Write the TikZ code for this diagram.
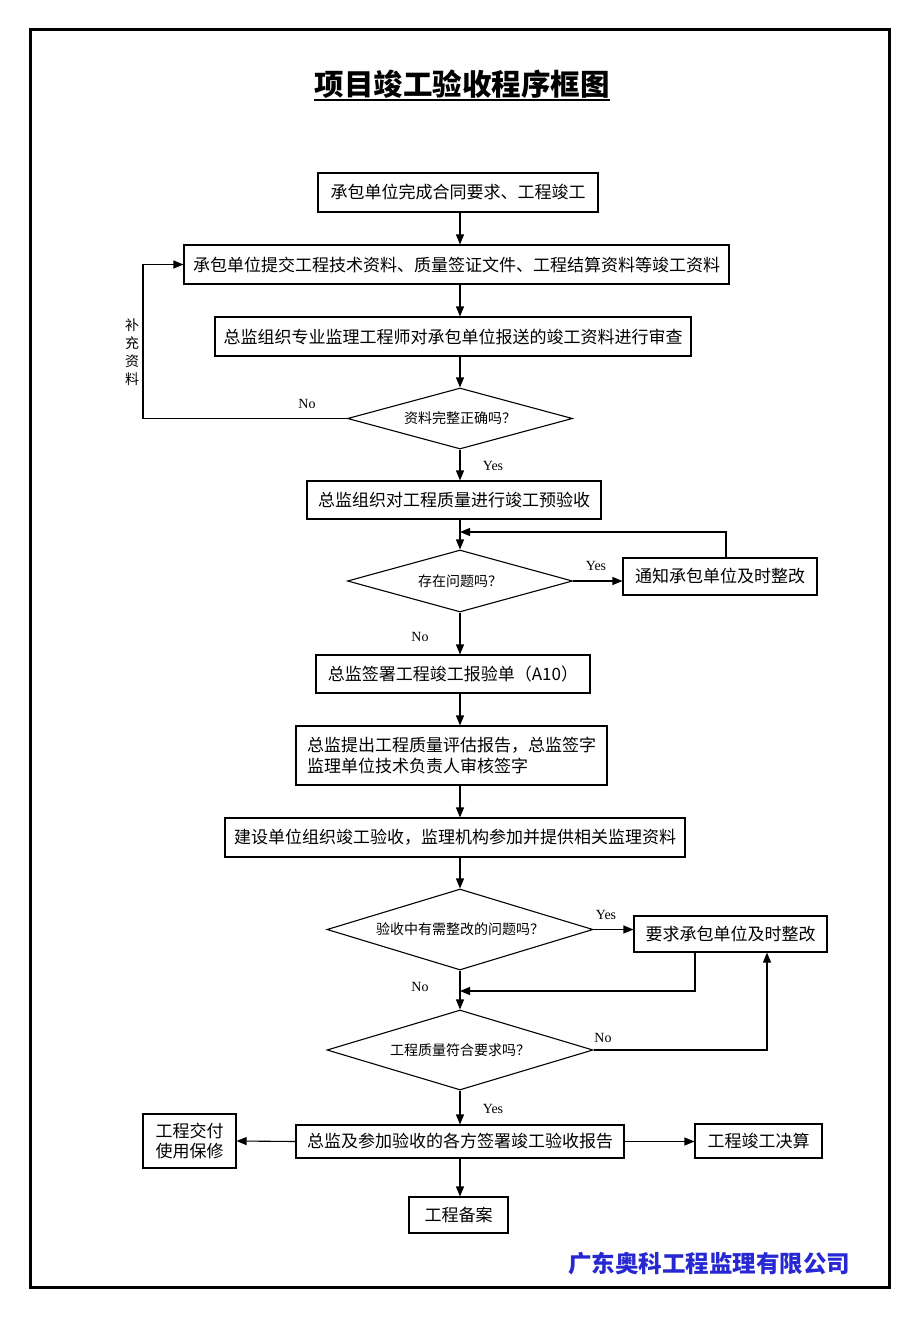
\documentclass[tikz,border=0pt]{standalone}
\usepackage{fontspec}
\setmainfont{Liberation Serif}
\newfontfamily\cjk{Noto Sans CJK SC}
\usetikzlibrary{arrows.meta,shapes.geometric}
\definecolor{coblue}{RGB}{40,40,210}
\begin{document}
\begin{tikzpicture}[x=1pt,y=-1pt,
  box/.style={draw,line width=1.1pt,inner sep=0pt,font=\cjk\fontsize{17}{21}\selectfont},
  dia/.style={draw,diamond,line width=1.1pt,inner sep=0pt,font=\cjk\fontsize{14}{17}\selectfont},
  arr/.style={line width=1.1pt,-{Triangle[length=10pt,width=8pt]}},
  ln/.style={line width=1.1pt},
  lab/.style={font=\fontsize{14}{16}\selectfont,inner sep=0pt}]
\useasboundingbox (0,0) rectangle (920,1329);
\draw[line width=3pt] (30,30) rectangle (889,1287);
% title
\node[anchor=base,inner sep=0pt,font=\cjk\bfseries\fontsize{29.5}{31}\selectfont] (title) at (462,96) {项目竣工验收程序框图};
\draw[line width=1.6pt] ([yshift=-4pt]title.base west) -- ([yshift=-4pt]title.base east);
\coordinate (ax) at (460,0);
% boxes
\node[box,minimum width=280,minimum height=39] (b1) at (458,192.5) {承包单位完成合同要求、工程竣工};
\node[box,minimum width=545,minimum height=39] (b2) at (456.5,264.5) {承包单位提交工程技术资料、质量签证文件、工程结算资料等竣工资料};
\node[box,minimum width=476,minimum height=39] (b3) at (453,336.5) {总监组织专业监理工程师对承包单位报送的竣工资料进行审查};
\node[dia,aspect=3.7,minimum width=225,minimum height=61] (d1) at (460,418.5) {资料完整正确吗？};
\node[box,minimum width=294,minimum height=38] (b4) at (454,500) {总监组织对工程质量进行竣工预验收};
\node[dia,aspect=3.63,minimum width=225,minimum height=62] (d2) at (460,581) {存在问题吗？};
\node[box,minimum width=194,minimum height=37] (b5) at (720,576.5) {通知承包单位及时整改};
\node[box,minimum width=274,minimum height=38] (b6) at (453,674) {总监签署工程竣工报验单（A10）};
\node[box,minimum width=311,minimum height=59,align=left] (b7) at (451.5,755.5) {总监提出工程质量评估报告，总监签字\\监理单位技术负责人审核签字};
\node[box,minimum width=460,minimum height=39] (b8) at (455,837.5) {建设单位组织竣工验收，监理机构参加并提供相关监理资料};
\node[dia,aspect=3.28,minimum width=266,minimum height=81] (d3) at (460,929.5) {验收中有需整改的问题吗？};
\node[box,minimum width=193,minimum height=36] (b9) at (730.5,934) {要求承包单位及时整改};
\node[dia,aspect=3.33,minimum width=266,minimum height=80] (d4) at (460,1050) {工程质量符合要求吗？};
\node[box,minimum width=328,minimum height=33] (b10) at (460,1141.5) {总监及参加验收的各方签署竣工验收报告};
\node[box,minimum width=93,minimum height=54,align=center,font=\cjk\fontsize{17}{20}\selectfont] (b11) at (189.5,1141) {工程交付\\使用保修};
\node[box,minimum width=127,minimum height=34] (b12) at (758.5,1141) {工程竣工决算};
\node[box,minimum width=99,minimum height=36] (b13) at (458.5,1215) {工程备案};
% coordinates for loops
\coordinate (fb) at (143,0);
\coordinate (r1) at (460,532);
\coordinate (r2) at (460,991);
\coordinate (c767) at (767,0);
\coordinate (c695) at (695,0);
\coordinate (c726) at (726,0);
% connectors
\draw[arr] (b1.south -| ax) -- (b2.north -| ax);
\draw[arr] (b2.south -| ax) -- (b3.north -| ax);
\draw[arr] (b3.south -| ax) -- (d1.north);
\draw[arr] (d1.west) -- (d1.west -| fb) |- (b2.west);
\draw[arr] (d1.south) -- (b4.north -| ax);
\draw[arr] (b4.south -| ax) -- (d2.north);
\draw[arr] (d2.east) -- (d2.east -| b5.west);
\draw[arr] (b5.north -| c726) |- (r1);
\draw[arr] (d2.south) -- (b6.north -| ax);
\draw[arr] (b6.south -| ax) -- (b7.north -| ax);
\draw[arr] (b7.south -| ax) -- (b8.north -| ax);
\draw[arr] (b8.south -| ax) -- (d3.north);
\draw[arr] (d3.east) -- (d3.east -| b9.west);
\draw[arr] (b9.south -| c695) |- (r2);
\draw[arr] (d3.south) -- (d4.north);
\draw[arr] (d4.east) -| (b9.south -| c767);
\draw[arr] (d4.south) -- (b10.north);
\draw[arr] (b10.west) -- (b11.east);
\draw[arr] (b10.east) -- (b10.east -| b12.west);
\draw[arr] (b10.south) -- (b13.north -| ax);
% labels
\node[lab] (l1) at (307,404) {No};
\node[lab] (l2) at (493,466) {Yes};
\node[lab] (l3) at (596,566) {Yes};
\node[lab] (l4) at (420,637) {No};
\node[lab] (l5) at (606,915) {Yes};
\node[lab] (l6) at (420,987) {No};
\node[lab] (l7) at (603,1038) {No};
\node[lab] (l8) at (493,1109) {Yes};
\node[align=center,inner sep=0pt,font=\cjk\fontsize{14}{18}\selectfont] (side) at (132,352) {补\\充\\资\\料};
% company
\node[inner sep=0pt,text=coblue,font=\cjk\bfseries\fontsize{23.5}{26}\selectfont] (co) at (709,1264) {广东奥科工程监理有限公司};
\end{tikzpicture}
\end{document}
